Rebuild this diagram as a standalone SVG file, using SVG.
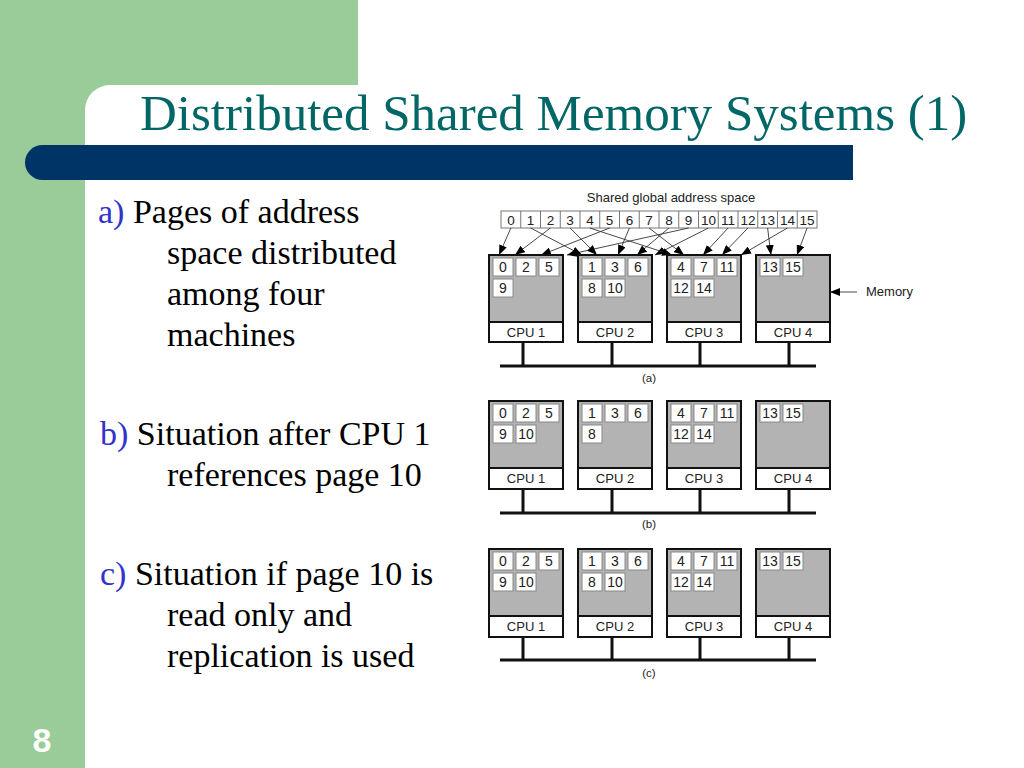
<svg xmlns="http://www.w3.org/2000/svg" width="1024" height="768" viewBox="0 0 1024 768">
<defs>
<marker id="ah" markerUnits="userSpaceOnUse" markerWidth="10" markerHeight="8" refX="10" refY="4" orient="auto"><path d="M0,0 L10,4 L0,8 z" fill="#000"/></marker>
<style>
.title{font-family:"Liberation Serif","Times New Roman",serif;font-size:51px;fill:#006666}
.body{font-family:"Liberation Serif","Times New Roman",serif;font-size:34px;fill:#000}
.lbl{fill:#3333cc}
.sm{font-family:"Liberation Sans",Arial,sans-serif;font-size:13px;fill:#222;text-anchor:middle}
.pn{font-size:14px}
.mem{fill:#b3b3b3;stroke:#111;stroke-width:2}
.cpu{fill:#fff;stroke:#111;stroke-width:2}
.pg{fill:#fff;stroke:#888;stroke-width:1}
.addr{fill:#fff;stroke:#777;stroke-width:1}
.ar{stroke:#333;stroke-width:0.9;fill:none;marker-end:url(#ah)}
.bus{stroke:#111;stroke-width:3;fill:none}
</style>
</defs>
<rect x="0" y="0" width="1024" height="768" fill="#99cc99"/>
<path d="M85,768 V110 A25,25 0 0 1 110,85 H358 V0 H1024 V768 Z" fill="#fff"/>
<path d="M42.5,145 H853 V180 H42.5 A17.5,17.5 0 0 1 42.5,145 Z" fill="#003366"/>
<text x="140" y="130" class="title">Distributed Shared Memory Systems (1)</text>
<text x="42" y="752" font-family="Liberation Sans,Arial,sans-serif" font-size="34" font-weight="bold" fill="#fff" text-anchor="middle">8</text>

<g id="text-a" class="body">
<text x="98" y="223"><tspan class="lbl">a)</tspan> Pages of address</text>
<text x="167" y="264">space distributed</text>
<text x="167" y="305">among four</text>
<text x="167" y="346">machines</text>
</g>
<g id="text-b" class="body">
<text x="100" y="445"><tspan class="lbl">b)</tspan> Situation after CPU 1</text>
<text x="167" y="486">references page 10</text>
</g>
<g id="text-c" class="body">
<text x="100" y="585"><tspan class="lbl">c)</tspan> Situation if page 10 is</text>
<text x="167" y="626">read only and</text>
<text x="167" y="667">replication is used</text>
</g>

<g id="address-space">
<text x="671" y="202" class="sm">Shared global address space</text>
<rect x="501" y="211" width="316" height="17" class="addr"/>
<path d="M520.75,211V228 M540.5,211V228 M560.25,211V228 M580,211V228 M599.75,211V228 M619.5,211V228 M639.25,211V228 M659,211V228 M678.75,211V228 M698.5,211V228 M718.25,211V228 M738,211V228 M757.75,211V228 M777.5,211V228 M797.25,211V228" stroke="#777" stroke-width="1"/>
<g class="sm" font-size="13.5" style="font-size:13.5px">
<text x="510.9" y="224.5">0</text><text x="530.6" y="224.5">1</text><text x="550.4" y="224.5">2</text><text x="570.1" y="224.5">3</text>
<text x="589.9" y="224.5">4</text><text x="609.6" y="224.5">5</text><text x="629.4" y="224.5">6</text><text x="649.1" y="224.5">7</text>
<text x="668.9" y="224.5">8</text><text x="688.6" y="224.5">9</text><text x="708.4" y="224.5">10</text><text x="728.1" y="224.5">11</text>
<text x="747.9" y="224.5">12</text><text x="767.6" y="224.5">13</text><text x="787.4" y="224.5">14</text><text x="807.1" y="224.5">15</text>
</g>
</g>

<g id="connectors">
<line x1="510.9" y1="228" x2="499" y2="255" class="ar"/>
<line x1="550.4" y1="228" x2="515" y2="255" class="ar"/>
<line x1="609.6" y1="228" x2="541" y2="255" class="ar"/>
<line x1="688.6" y1="228" x2="567" y2="255" class="ar"/>
<line x1="530.6" y1="228" x2="582" y2="255" class="ar"/>
<line x1="570.1" y1="228" x2="597" y2="255" class="ar"/>
<line x1="629.4" y1="228" x2="618" y2="255" class="ar"/>
<line x1="668.9" y1="228" x2="637" y2="255" class="ar"/>
<line x1="708.4" y1="228" x2="655" y2="255" class="ar"/>
<line x1="589.9" y1="228" x2="672" y2="255" class="ar"/>
<line x1="649.1" y1="228" x2="684" y2="255" class="ar"/>
<line x1="728.1" y1="228" x2="703" y2="255" class="ar"/>
<line x1="747.9" y1="228" x2="722" y2="255" class="ar"/>
<line x1="787.4" y1="228" x2="741" y2="255" class="ar"/>
<line x1="767.6" y1="228" x2="771" y2="255" class="ar"/>
<line x1="807.1" y1="228" x2="797" y2="255" class="ar"/>
<line x1="857" y1="292" x2="830" y2="292" class="ar"/>
<path class="bus" d="M500,366H816 M523,342V366 M612,342V366 M700,342V366 M789,342V366"/>
<path class="bus" d="M500,513H816 M523,489V513 M612,489V513 M700,489V513 M789,489V513"/>
<path class="bus" d="M500,660H816 M523,637V660 M612,637V660 M700,637V660 M789,637V660"/>
</g>
<text x="866" y="296" class="sm" style="text-anchor:start">Memory</text>

<!-- Panel a -->
<g id="a-m1">
<rect x="489" y="255" width="74" height="67" class="mem"/><rect x="489" y="322" width="74" height="20" class="cpu"/>
<rect x="493" y="258" width="20" height="18" class="pg"/><rect x="516" y="258" width="20" height="18" class="pg"/><rect x="539" y="258" width="20" height="18" class="pg"/>
<rect x="493" y="279" width="20" height="18" class="pg"/>
<g class="sm"><g class="pn"><text x="503" y="272">0</text><text x="526" y="272">2</text><text x="549" y="272">5</text><text x="503" y="293">9</text></g><text x="526" y="337">CPU 1</text></g>
</g>
<g id="a-m2">
<rect x="578" y="255" width="74" height="67" class="mem"/><rect x="578" y="322" width="74" height="20" class="cpu"/>
<rect x="582" y="258" width="20" height="18" class="pg"/><rect x="605" y="258" width="20" height="18" class="pg"/><rect x="628" y="258" width="20" height="18" class="pg"/>
<rect x="582" y="279" width="20" height="18" class="pg"/><rect x="605" y="279" width="20" height="18" class="pg"/>
<g class="sm"><g class="pn"><text x="592" y="272">1</text><text x="615" y="272">3</text><text x="638" y="272">6</text><text x="592" y="293">8</text><text x="615" y="293">10</text></g><text x="615" y="337">CPU 2</text></g>
</g>
<g id="a-m3">
<rect x="667" y="255" width="74" height="67" class="mem"/><rect x="667" y="322" width="74" height="20" class="cpu"/>
<rect x="671" y="258" width="20" height="18" class="pg"/><rect x="694" y="258" width="20" height="18" class="pg"/><rect x="717" y="258" width="20" height="18" class="pg"/>
<rect x="671" y="279" width="20" height="18" class="pg"/><rect x="694" y="279" width="20" height="18" class="pg"/>
<g class="sm"><g class="pn"><text x="681" y="272">4</text><text x="704" y="272">7</text><text x="727" y="272">11</text><text x="681" y="293">12</text><text x="704" y="293">14</text></g><text x="704" y="337">CPU 3</text></g>
</g>
<g id="a-m4">
<rect x="756" y="255" width="74" height="67" class="mem"/><rect x="756" y="322" width="74" height="20" class="cpu"/>
<rect x="760" y="258" width="20" height="18" class="pg"/><rect x="783" y="258" width="20" height="18" class="pg"/>
<g class="sm"><g class="pn"><text x="770" y="272">13</text><text x="793" y="272">15</text></g><text x="793" y="337">CPU 4</text></g>
</g>
<text x="649" y="382" class="sm" style="font-size:11.5px">(a)</text>

<!-- Panel b -->
<g id="b-m1">
<rect x="489" y="401" width="74" height="67" class="mem"/><rect x="489" y="468" width="74" height="21" class="cpu"/>
<rect x="493" y="404" width="20" height="18" class="pg"/><rect x="516" y="404" width="20" height="18" class="pg"/><rect x="539" y="404" width="20" height="18" class="pg"/>
<rect x="493" y="425" width="20" height="18" class="pg"/><rect x="516" y="425" width="20" height="18" class="pg"/>
<g class="sm"><g class="pn"><text x="503" y="418">0</text><text x="526" y="418">2</text><text x="549" y="418">5</text><text x="503" y="439">9</text><text x="526" y="439">10</text></g><text x="526" y="483">CPU 1</text></g>
</g>
<g id="b-m2">
<rect x="578" y="401" width="74" height="67" class="mem"/><rect x="578" y="468" width="74" height="21" class="cpu"/>
<rect x="582" y="404" width="20" height="18" class="pg"/><rect x="605" y="404" width="20" height="18" class="pg"/><rect x="628" y="404" width="20" height="18" class="pg"/>
<rect x="582" y="425" width="20" height="18" class="pg"/>
<g class="sm"><g class="pn"><text x="592" y="418">1</text><text x="615" y="418">3</text><text x="638" y="418">6</text><text x="592" y="439">8</text></g><text x="615" y="483">CPU 2</text></g>
</g>
<g id="b-m3">
<rect x="667" y="401" width="74" height="67" class="mem"/><rect x="667" y="468" width="74" height="21" class="cpu"/>
<rect x="671" y="404" width="20" height="18" class="pg"/><rect x="694" y="404" width="20" height="18" class="pg"/><rect x="717" y="404" width="20" height="18" class="pg"/>
<rect x="671" y="425" width="20" height="18" class="pg"/><rect x="694" y="425" width="20" height="18" class="pg"/>
<g class="sm"><g class="pn"><text x="681" y="418">4</text><text x="704" y="418">7</text><text x="727" y="418">11</text><text x="681" y="439">12</text><text x="704" y="439">14</text></g><text x="704" y="483">CPU 3</text></g>
</g>
<g id="b-m4">
<rect x="756" y="401" width="74" height="67" class="mem"/><rect x="756" y="468" width="74" height="21" class="cpu"/>
<rect x="760" y="404" width="20" height="18" class="pg"/><rect x="783" y="404" width="20" height="18" class="pg"/>
<g class="sm"><g class="pn"><text x="770" y="418">13</text><text x="793" y="418">15</text></g><text x="793" y="483">CPU 4</text></g>
</g>
<text x="649" y="528" class="sm" style="font-size:11.5px">(b)</text>

<!-- Panel c -->
<g id="c-m1">
<rect x="489" y="549" width="74" height="67" class="mem"/><rect x="489" y="616" width="74" height="21" class="cpu"/>
<rect x="493" y="552" width="20" height="18" class="pg"/><rect x="516" y="552" width="20" height="18" class="pg"/><rect x="539" y="552" width="20" height="18" class="pg"/>
<rect x="493" y="573" width="20" height="18" class="pg"/><rect x="516" y="573" width="20" height="18" class="pg"/>
<g class="sm"><g class="pn"><text x="503" y="566">0</text><text x="526" y="566">2</text><text x="549" y="566">5</text><text x="503" y="587">9</text><text x="526" y="587">10</text></g><text x="526" y="631">CPU 1</text></g>
</g>
<g id="c-m2">
<rect x="578" y="549" width="74" height="67" class="mem"/><rect x="578" y="616" width="74" height="21" class="cpu"/>
<rect x="582" y="552" width="20" height="18" class="pg"/><rect x="605" y="552" width="20" height="18" class="pg"/><rect x="628" y="552" width="20" height="18" class="pg"/>
<rect x="582" y="573" width="20" height="18" class="pg"/><rect x="605" y="573" width="20" height="18" class="pg"/>
<g class="sm"><g class="pn"><text x="592" y="566">1</text><text x="615" y="566">3</text><text x="638" y="566">6</text><text x="592" y="587">8</text><text x="615" y="587">10</text></g><text x="615" y="631">CPU 2</text></g>
</g>
<g id="c-m3">
<rect x="667" y="549" width="74" height="67" class="mem"/><rect x="667" y="616" width="74" height="21" class="cpu"/>
<rect x="671" y="552" width="20" height="18" class="pg"/><rect x="694" y="552" width="20" height="18" class="pg"/><rect x="717" y="552" width="20" height="18" class="pg"/>
<rect x="671" y="573" width="20" height="18" class="pg"/><rect x="694" y="573" width="20" height="18" class="pg"/>
<g class="sm"><g class="pn"><text x="681" y="566">4</text><text x="704" y="566">7</text><text x="727" y="566">11</text><text x="681" y="587">12</text><text x="704" y="587">14</text></g><text x="704" y="631">CPU 3</text></g>
</g>
<g id="c-m4">
<rect x="756" y="549" width="74" height="67" class="mem"/><rect x="756" y="616" width="74" height="21" class="cpu"/>
<rect x="760" y="552" width="20" height="18" class="pg"/><rect x="783" y="552" width="20" height="18" class="pg"/>
<g class="sm"><g class="pn"><text x="770" y="566">13</text><text x="793" y="566">15</text></g><text x="793" y="631">CPU 4</text></g>
</g>
<text x="649" y="677" class="sm" style="font-size:11.5px">(c)</text>
</svg>
